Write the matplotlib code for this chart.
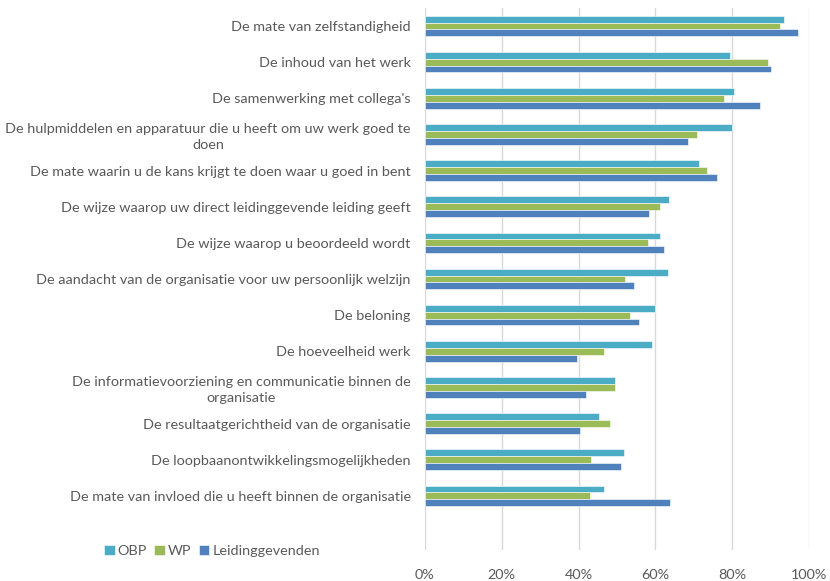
import numpy as np
import matplotlib
matplotlib.use('Agg')
import matplotlib.pyplot as plt
from matplotlib.ticker import PercentFormatter

categories = [
    "De mate van zelfstandigheid",
    "De inhoud van het werk",
    "De samenwerking met collega's",
    "De hulpmiddelen en apparatuur die u heeft om uw werk goed te\ndoen",
    "De mate waarin u de kans krijgt te doen waar u goed in bent",
    "De wijze waarop uw direct leidinggevende leiding geeft",
    "De wijze waarop u beoordeeld wordt",
    "De aandacht van de organisatie voor uw persoonlijk welzijn",
    "De beloning",
    "De hoeveelheid werk",
    "De informatievoorziening en communicatie binnen de\norganisatie",
    "De resultaatgerichtheid van de organisatie",
    "De loopbaanontwikkelingsmogelijkheden",
    "De mate van invloed die u heeft binnen de organisatie",
]
obp = [93.3, 79.4, 80.4, 79.8, 71.3, 63.4, 61.2, 63.2, 59.8, 59.0, 49.6, 45.2, 51.7, 46.5]
wp = [92.3, 89.3, 77.8, 70.7, 73.5, 61.3, 58.0, 52.1, 53.5, 46.7, 49.5, 48.1, 43.3, 42.9]
leiding = [97.0, 90.0, 87.2, 68.4, 76.1, 58.3, 62.2, 54.4, 55.7, 39.6, 41.9, 40.4, 51.0, 63.9]
series_names = ["OBP", "WP", "Leidinggevenden"]
colors = ["#4BACC6", "#9BBB59", "#4F81BD"]

plt.rcParams['font.family'] = ['Lato', 'DejaVu Sans']
text_color = "#595959"

fig = plt.figure(figsize=(8.3, 5.81), dpi=100)
ax = fig.add_axes([424.7 / 830, 1 - 550 / 581, (809.3 - 424.7) / 830, (550 - 8) / 581])

y = np.arange(len(categories))
h = 0.19
for i, (vals, name, col) in enumerate(zip([obp, wp, leiding], series_names, colors)):
    ax.barh(y + (i - 1) * h, vals, height=h, color=col, edgecolor='white',
            linewidth=0.4, label=name, zorder=3)

ax.set_xlim(0, 100)
ax.set_ylim(len(categories) + 0.5, -0.5)
ax.xaxis.set_major_formatter(PercentFormatter(decimals=0))
ax.set_xticks(np.arange(0, 101, 20))
ax.grid(axis='x', color='#d9d9d9', linewidth=1, zorder=0)
for s in ax.spines.values():
    s.set_visible(False)
ax.tick_params(axis='x', length=0, pad=14, labelsize=10.4, labelcolor=text_color)
ax.tick_params(axis='y', length=0, pad=10, labelsize=10.4, labelcolor=text_color)
ax.set_yticks(y)
ax.set_yticklabels(categories, multialignment='center', linespacing=1.35)

fig.legend(loc='center left', bbox_to_anchor=(98 / 830, 1 - 551 / 581), ncol=3,
           frameon=False, handlelength=0.75, handleheight=0.75, handletextpad=0.2,
           columnspacing=0.5, fontsize=10.4, labelcolor=text_color, borderaxespad=0)

fig.savefig('out.png', dpi=100)
